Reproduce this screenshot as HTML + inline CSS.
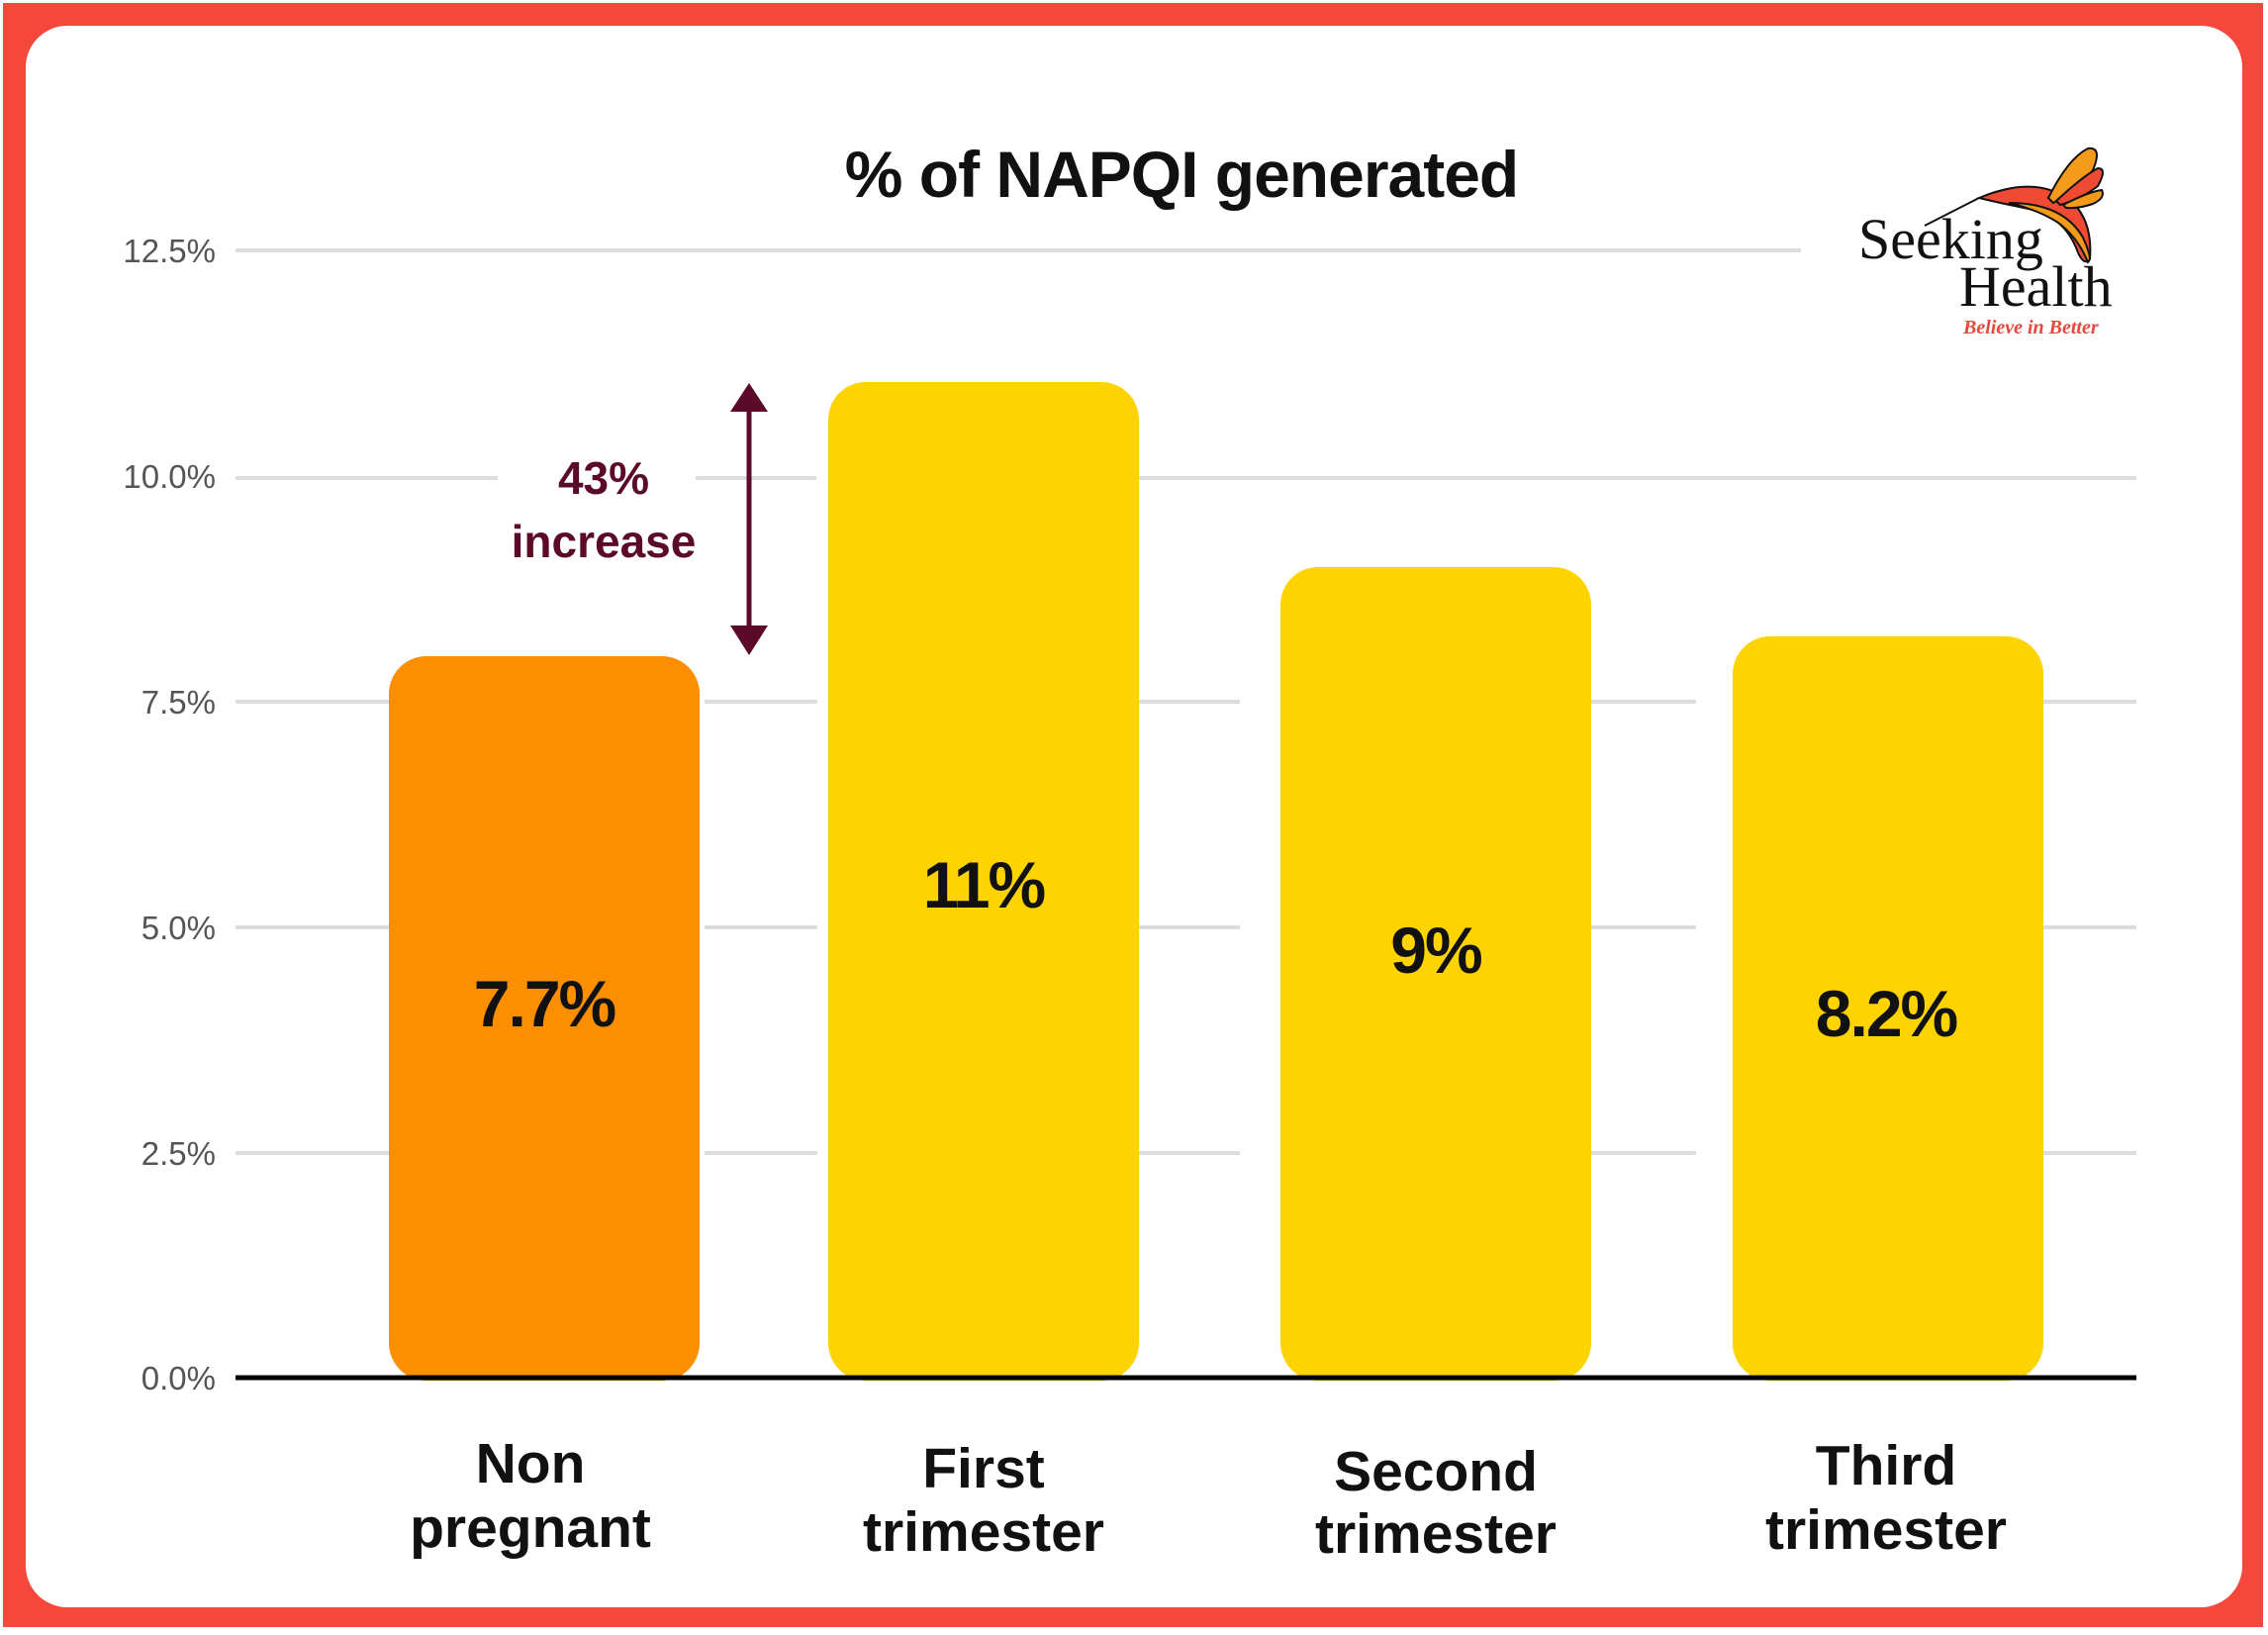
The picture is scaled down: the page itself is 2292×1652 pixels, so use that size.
<!DOCTYPE html>
<html><head><meta charset="utf-8"><style>
html,body{margin:0;padding:0;background:#fff;}
svg{display:block;}
</style></head><body>
<svg width="2292" height="1652" viewBox="0 0 2292 1652" xmlns="http://www.w3.org/2000/svg">
<rect x="0" y="0" width="2292" height="1652" fill="#fff"/>
<rect x="3" y="3" width="2284" height="1641" fill="#f5473b"/>
<rect x="26" y="26" width="2240" height="1598" rx="42" fill="#fff"/>
<text x="1194" y="199" text-anchor="middle" font-family="Liberation Sans, sans-serif" font-weight="bold" font-size="66" letter-spacing="-1" fill="#111">% of NAPQI generated</text>
<g font-family="Liberation Sans, sans-serif" font-size="33" fill="#555" text-anchor="end">
<text x="218" y="265">12.5%</text>
<text x="218" y="493">10.0%</text>
<text x="218" y="721">7.5%</text>
<text x="218" y="949">5.0%</text>
<text x="218" y="1177">2.5%</text>
<text x="218" y="1404">0.0%</text>
</g>
<g stroke="#dcdcdc" stroke-width="4">
<line x1="238" y1="253" x2="1820" y2="253"/>
<line x1="238" y1="483" x2="503" y2="483"/><line x1="703" y1="483" x2="825" y2="483"/><line x1="1150" y1="483" x2="2159" y2="483"/>
<line x1="238" y1="709" x2="393" y2="709"/><line x1="712" y1="709" x2="826" y2="709"/><line x1="1150" y1="709" x2="1253" y2="709"/><line x1="1608" y1="709" x2="1714" y2="709"/><line x1="2064" y1="709" x2="2159" y2="709"/>
<line x1="238" y1="937" x2="393" y2="937"/><line x1="712" y1="937" x2="826" y2="937"/><line x1="1150" y1="937" x2="1253" y2="937"/><line x1="1608" y1="937" x2="1714" y2="937"/><line x1="2064" y1="937" x2="2159" y2="937"/>
<line x1="238" y1="1165" x2="393" y2="1165"/><line x1="712" y1="1165" x2="826" y2="1165"/><line x1="1150" y1="1165" x2="1253" y2="1165"/><line x1="1608" y1="1165" x2="1714" y2="1165"/><line x1="2064" y1="1165" x2="2159" y2="1165"/>
</g>
<rect x="393" y="663" width="314" height="732" rx="38" fill="#fb8f00"/>
<rect x="837" y="386" width="314" height="1009" rx="38" fill="#fdd300"/>
<rect x="1294" y="573" width="314" height="822" rx="38" fill="#fdd300"/>
<rect x="1751" y="643" width="314" height="752" rx="38" fill="#fdd300"/>
<line x1="238" y1="1392" x2="2159" y2="1392" stroke="#000" stroke-width="5"/>
<g font-family="Liberation Sans, sans-serif" font-weight="bold" font-size="66" letter-spacing="-2" fill="#111" text-anchor="middle">
<text x="550" y="1037">7.7%</text>
<text x="994" y="917">11%</text>
<text x="1451" y="983">9%</text>
<text x="1906" y="1047">8.2%</text>
</g>
<g font-family="Liberation Sans, sans-serif" font-weight="bold" font-size="57" fill="#111" text-anchor="middle">
<text x="536" y="1498">Non</text><text x="536" y="1563">pregnant</text>
<text x="994" y="1503">First</text><text x="994" y="1567">trimester</text>
<text x="1451" y="1506">Second</text><text x="1451" y="1569">trimester</text>
<text x="1906" y="1500">Third</text><text x="1906" y="1565">trimester</text>
</g>
<g fill="#5c0a2a">
<line x1="757" y1="410" x2="757" y2="640" stroke="#5c0a2a" stroke-width="5"/>
<polygon points="757,387 738,416 776,416"/>
<polygon points="757,662 738,632 776,632"/>
<g font-family="Liberation Sans, sans-serif" font-weight="bold" font-size="46" text-anchor="middle">
<text x="610" y="499">43%</text>
<text x="610" y="563">increase</text>
</g>
</g>
<!-- logo -->
<g>
<path d="M2000 200 Q2060 175 2095 205 Q2115 225 2112 262 Q2105 270 2098 250 Q2085 220 2055 212 Q2025 206 2000 200 Z" fill="#ef4a34" stroke="#111" stroke-width="2"/>
<path d="M2030 205 Q2085 205 2105 240 Q2115 262 2110 265 Q2100 240 2080 225 Q2060 212 2030 205 Z" fill="#f39a1b" stroke="#111" stroke-width="2"/>
<path d="M2070 200 Q2090 160 2110 150 Q2125 148 2115 172 Q2100 192 2075 205 Z" fill="#f39a1b" stroke="#111" stroke-width="2"/>
<path d="M2078 203 Q2105 178 2120 170 Q2130 170 2120 188 Q2105 200 2082 207 Z" fill="#ef4a34" stroke="#111" stroke-width="2"/>
<path d="M2085 207 Q2110 194 2124 192 Q2128 200 2115 206 Q2100 211 2088 210 Z" fill="#f39a1b" stroke="#111" stroke-width="2"/>
<line x1="2000" y1="200" x2="1945" y2="228" stroke="#111" stroke-width="2"/>
<text x="1878" y="261" font-family="Liberation Serif, serif" font-size="58" fill="#111">Seeking</text>
<text x="1980" y="309" font-family="Liberation Serif, serif" font-size="58" fill="#111">Health</text>
<text x="1984" y="337" font-family="Liberation Serif, serif" font-style="italic" font-weight="bold" font-size="20" fill="#e5483c">Believe in Better</text>
</g>
</svg>
</body></html>
